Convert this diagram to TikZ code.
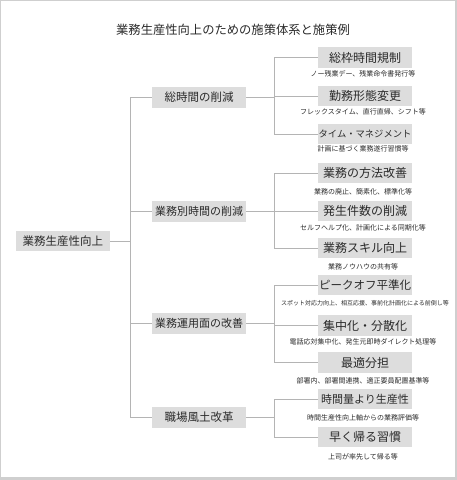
\documentclass[tikz,border=0pt]{standalone}
\usepackage{fontspec}
\newfontfamily\jp{Noto Sans CJK JP}
\definecolor{boxfill}{HTML}{DDDDDD}
\definecolor{linec}{HTML}{B4B4B4}
\definecolor{txt}{HTML}{2A2A2A}
\definecolor{framec}{HTML}{CFCFCF}
\begin{document}
\begin{tikzpicture}[x=1pt,y=-1pt,
  boxnode/.style={fill=boxfill, minimum width=94pt, minimum height=20.5pt, inner sep=0pt, text=txt, font=\jp\fontsize{11.5}{12}\selectfont},
  lthree/.style={boxnode, font=\jp\fontsize{12}{13}\selectfont},
  subnote/.style={inner sep=0pt, text=txt, font=\jp\fontsize{7}{8}\selectfont},
  conn/.style={draw=linec, line width=0.8pt}]
\useasboundingbox (0,0) rectangle (457,480);
% frame
\fill[white] (0,0) rectangle (457,480);
\draw[framec, line width=1pt] (0.5,0.5) -- (0.5,479.5);
\draw[framec, line width=1pt] (0,0.5) -- (457,0.5);
\fill[framec] (454.5,0) rectangle (457,480);
\fill[framec] (0,477) rectangle (457,480);
% title
\node[text=txt, font=\jp\fontsize{12.3}{13}\selectfont] (title) at (233,30) {業務生産性向上のための施策体系と施策例};
% root
\node[boxnode] (root) at (63,241) {業務生産性向上};
% level 2
\node[boxnode] (a) at (199,97.5) {総時間の削減};
\node[boxnode, font=\jp\fontsize{11}{12}\selectfont] (b) at (199,211.5) {業務別時間の削減};
\node[boxnode, font=\jp\fontsize{11}{12}\selectfont] (c) at (199,323.5) {業務運用面の改善};
\node[boxnode] (d) at (199,417.5) {職場風土改革};
% level 3
\node[lthree] (a1) at (365,57.5) {総枠時間規制};
\node[subnote] (a1n) at (363,74) {ノー残業デー、残業命令書発行等};
\node[lthree] (a2) at (365,96) {勤務形態変更};
\node[subnote] (a2n) at (363,112) {フレックスタイム、直行直帰、シフト等};
\node[lthree, font=\jp\fontsize{9.3}{11}\selectfont] (a3) at (365,134) {タイム・マネジメント};
\node[subnote] (a3n) at (363,149) {計画に基づく業務遂行習慣等};
\node[lthree] (b1) at (365,173) {業務の方法改善};
\node[subnote] (b1n) at (363,192) {業務の廃止、簡素化、標準化等};
\node[lthree] (b2) at (365,211) {発生件数の削減};
\node[subnote] (b2n) at (363,228) {セルフヘルプ化、計画化による同期化等};
\node[lthree] (b3) at (365,248) {業務スキル向上};
\node[subnote] (b3n) at (363,267) {業務ノウハウの共有等};
\node[lthree, font=\jp\fontsize{11.5}{12}\selectfont] (c1) at (365,285) {ピークオフ平準化};
\node[subnote, font=\jp\fontsize{6}{7}\selectfont] (c1n) at (365,303) {スポット対応力向上、相互応援、事前化計画化による前倒し等};
\node[lthree] (c2) at (365,325.5) {集中化・分散化};
\node[subnote] (c2n) at (363,342) {電話応対集中化、発生元即時ダイレクト処理等};
\node[lthree] (c3) at (365,362.5) {最適分担};
\node[subnote] (c3n) at (363,381) {部署内、部署間連携、適正要員配置基準等};
\node[lthree, font=\jp\fontsize{11}{12}\selectfont] (d1) at (365,399) {時間量より生産性};
\node[subnote] (d1n) at (363,418) {時間生産性向上軸からの業務評価等};
\node[lthree] (d2) at (365,437) {早く帰る習慣};
\node[subnote] (d2n) at (363,457) {上司が率先して帰る等};
% trunk coordinates
\coordinate (t) at (130,0);
\coordinate (u) at (274,0);
% root trunk
\draw[conn] (root.east) -- (root.east -| t);
\draw[conn] (a.west -| t) -- (d.west -| t);
\foreach \n in {a,b,c,d} \draw[conn] (\n.west -| t) -- (\n.west);
% level 2 -> level 3
\foreach \n in {a,b,c,d} \draw[conn] (\n.east) -- (\n.east -| u);
\draw[conn] (a1.west -| u) -- (a3.west -| u);
\draw[conn] (b1.west -| u) -- (b3.west -| u);
\draw[conn] (c1.west -| u) -- (c3.west -| u);
\draw[conn] (d1.west -| u) -- (d2.west -| u);
\foreach \n in {a1,a2,a3,b1,b2,b3,c1,c2,c3,d1,d2} \draw[conn] (\n.west -| u) -- (\n.west);
\end{tikzpicture}
\end{document}
